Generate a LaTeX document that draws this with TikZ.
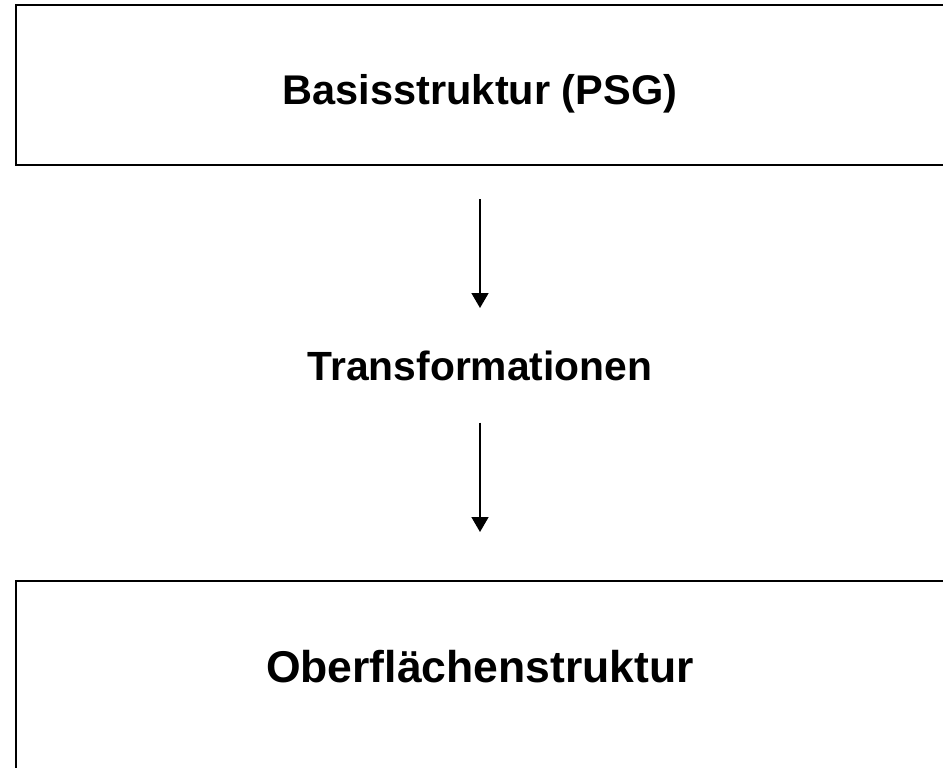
\documentclass[tikz,border=0pt]{standalone}
\usepackage{fontspec}
\setmainfont{Liberation Sans}
\usetikzlibrary{arrows.meta,positioning}
\begin{document}
\begin{tikzpicture}[x=1pt,y=-1pt,
    every node/.style={font=\bfseries\fontsize{41.5}{50}\selectfont},
    stufe/.style={draw,line width=2pt,inner sep=0pt,minimum width=929pt},
    pfeil/.style={-{Triangle[width=17pt,length=15pt]},line width=1.6pt}]
    \useasboundingbox (0,0) rectangle (943,768);
    \clip (0,0) rectangle (943,768);
    % Rahmen
    \node[stufe,minimum height=159.5pt] (basisrahmen) at (480,85.25) {};
    \node[stufe,minimum height=190pt] (oberrahmen) at (480,676) {};
    % Texte
    \node[anchor=base] (basis) at (480,105) {Basisstruktur (PSG)};
    \node[anchor=base,font=\bfseries\fontsize{40.8}{49}\selectfont] (trans) at (480,380) {Transformationen};
    \node[anchor=base,font=\bfseries\fontsize{44.5}{53}\selectfont] (ober) at (480,682) {Oberflächenstruktur};
    % Pfeile
    \coordinate (ende1) at (480,308);
    \coordinate (ende2) at (480,532);
    \draw[pfeil] ([yshift=-33pt]basisrahmen.south) -- (ende1);
    \draw[pfeil] ([yshift=-38.7pt]trans.south) -- (ende2);
\end{tikzpicture}
\end{document}
